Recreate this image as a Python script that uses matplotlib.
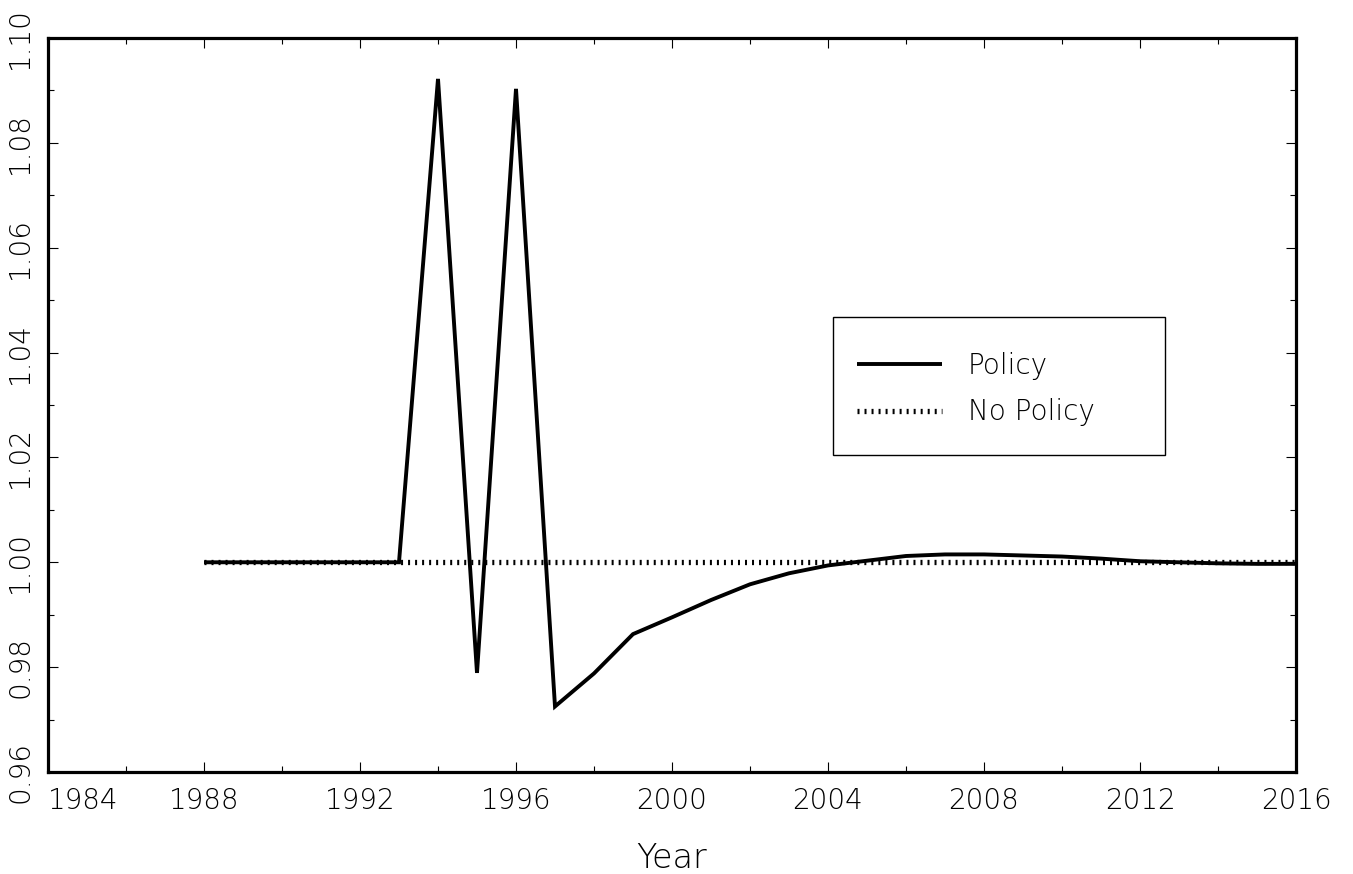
import matplotlib
matplotlib.use("Agg")
import matplotlib.pyplot as plt
from matplotlib.patches import Rectangle
from matplotlib.ticker import MultipleLocator, FixedLocator

# Simulated series, 1988-2016
years = list(range(1988, 2017))
policy = [1.0000, 1.0000, 1.0000, 1.0000, 1.0000, 1.0000,
          1.0922, 0.9789, 1.0903, 0.9725, 0.9788, 0.9863,
          0.9895, 0.9928, 0.9958, 0.9979, 0.9994, 1.0003,
          1.0012, 1.0015, 1.0015, 1.0013, 1.0011, 1.0007,
          1.0002, 1.0000, 0.9998, 0.9997, 0.9997]
no_policy = [1.0] * len(years)

x_ticks = [1984, 1988, 1992, 1996, 2000, 2004, 2008, 2012, 2016]
y_ticks = [0.96, 0.98, 1.00, 1.02, 1.04, 1.06, 1.08, 1.10]
series_labels = ["Policy", "No Policy"]
x_title = "Year"

FONT = dict(family="DejaVu Sans", weight="light")
FS = 20
W, H = 1353, 874

fig = plt.figure(figsize=(W / 100, H / 100), dpi=100)
ax = fig.add_axes([48 / W, 1 - 772 / H, (1296 - 48) / W, (772 - 38) / H])

ax.plot(years, no_policy, color="black", lw=3.8,
        linestyle=(0, (0.38, 0.95)), dash_capstyle="butt",
        label=series_labels[1], zorder=2)
ax.plot(years, policy, color="black", lw=2.8,
        solid_joinstyle="miter", solid_capstyle="butt",
        label=series_labels[0], zorder=3)

ax.set_xlim(1984, 2016)
ax.set_ylim(0.96, 1.10)

ax.xaxis.set_major_locator(FixedLocator(x_ticks))
ax.xaxis.set_minor_locator(MultipleLocator(2))
ax.yaxis.set_major_locator(FixedLocator(y_ticks))
ax.yaxis.set_minor_locator(MultipleLocator(0.01))

ax.set_xticklabels([str(v) for v in x_ticks], fontsize=FS, **FONT)
ax.set_yticklabels([f"{v:.2f}" for v in y_ticks], fontsize=FS,
                   rotation=90, va="center", **FONT)
ax.get_xticklabels()[0].set_horizontalalignment("left")

ax.tick_params(which="both", direction="in", top=True, right=True,
               width=0.8, color="black")
ax.tick_params(which="major", length=7.5)
ax.tick_params(which="minor", length=4.5)
ax.tick_params(axis="x", which="major", pad=11)
ax.tick_params(axis="y", which="major", pad=10)

for side in ["left", "right", "top", "bottom"]:
    ax.spines[side].set_linewidth(2.3)
    ax.spines[side].set_color("black")

ax.set_xlabel(x_title, fontsize=FS + 4, labelpad=19, **FONT)

# Legend entries (frameless) inside a separately drawn box
handles, labels = ax.get_legend_handles_labels()
order = [1, 0]
leg = ax.legend([handles[i] for i in order], [labels[i] for i in order],
                loc="upper left",
                bbox_to_anchor=(857 / W, 1 - 352 / H),
                bbox_transform=fig.transFigure,
                prop=dict(size=FS, **FONT), frameon=False,
                borderpad=0.0, borderaxespad=0.0,
                handlelength=3.05, handletextpad=0.94, labelspacing=0.66)

box = Rectangle((833 / W, 1 - 455 / H), (1165 - 833) / W, (455 - 317) / H,
                transform=fig.transFigure, fill=False, edgecolor="black",
                linewidth=1.0, clip_on=False, zorder=5)
fig.add_artist(box)

fig.savefig("out.png", dpi=100)
